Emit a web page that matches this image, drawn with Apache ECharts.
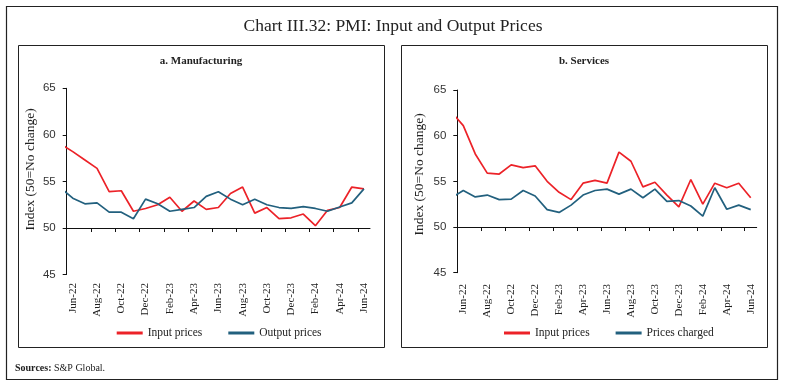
<!DOCTYPE html>
<html>
<head>
<meta charset="utf-8">
<script src="https://cdn.jsdelivr.net/npm/echarts/dist/echarts.min.js"></script>
<style>
html,body{margin:0;padding:0;background:#fff;}
#chart{width:786px;height:383px;}
</style>
</head>
<body>
<div id="chart"></div>
<script>
// Months: May-22 (partly outside the plot, clipped at the axis) to Jun-24
const months = ['May-22','Jun-22','Jul-22','Aug-22','Sep-22','Oct-22','Nov-22','Dec-22','Jan-23','Feb-23','Mar-23','Apr-23','May-23','Jun-23','Jul-23','Aug-23','Sep-23','Oct-23','Nov-23','Dec-23','Jan-24','Feb-24','Mar-24','Apr-24','May-24','Jun-24'];
const tickLabels = ['Jun-22','Aug-22','Oct-22','Dec-22','Feb-23','Apr-23','Jun-23','Aug-23','Oct-23','Dec-23','Feb-24','Apr-24','Jun-24'];
// a. Manufacturing
const mfgInput  = [59.0,58.2,57.3,56.4,53.9,54.0,51.8,52.1,52.5,53.3,51.8,52.9,52.0,52.2,53.7,54.4,51.6,52.2,51.0,51.1,51.5,50.25,51.9,52.2,54.4,54.2];
const mfgOutput = [54.3,53.2,52.6,52.7,51.7,51.7,51.0,53.1,52.6,51.8,52.0,52.2,53.4,53.9,53.1,52.5,53.1,52.5,52.2,52.1,52.3,52.1,51.8,52.25,52.7,54.2];
// b. Services
const svcInput   = [62.6,61.1,58.0,55.9,55.8,56.8,56.5,56.7,55.0,53.8,53.0,54.8,55.1,54.8,58.2,57.2,54.4,54.9,53.5,52.2,55.2,52.5,54.8,54.3,54.8,53.2];
const svcCharged = [53.2,54.0,53.3,53.5,53.0,53.05,54.0,53.4,51.9,51.6,52.4,53.5,54.0,54.15,53.6,54.15,53.2,54.15,52.8,52.9,52.3,51.2,54.3,51.95,52.4,51.9];

const RED = '#EC2228';
const BLUE = '#22607E';
const SERIF = "'Liberation Serif','DejaVu Serif',serif";
const SANS = "'Liberation Sans','DejaVu Sans',sans-serif";

function toXY(arr){ return arr.map((v,k)=>[k-0.5, v]); }
const tickVals = [];
for (let k=0;k<=24;k+=2) tickVals.push(k);
const labelVals = tickLabels.map(t => months.indexOf(t) - 0.5);

const grids = [
  {left:66.7, top:88.3, width:303.3, height:186.3},
  {left:457.3, top:90, width:299.4, height:182.7}
];

function xAxisFor(i, margin){
  return {
    type:'value', gridIndex:i, min:0, max:25,
    offset: -grids[i].height/4,
    axisLine:{show:true, lineStyle:{color:'#111', width:1}},
    axisTick:{show:true, length:4, customValues:tickVals, lineStyle:{color:'#111'}},
    axisLabel:{show:true, customValues:labelVals, rotate:90, margin:margin,
      fontFamily:SERIF, fontSize:11, color:'#222',
      formatter:function(v){ return months[Math.round(v+0.5)] || ''; }},
    splitLine:{show:false}
  };
}
function yAxisFor(i, gap, pad){
  return {
    type:'value', gridIndex:i, min:45, max:65, interval:5,
    name:'Index (50=No change)', nameLocation:'middle', nameGap:gap,
    nameTextStyle:{fontFamily:SERIF, fontSize:13.5, color:'#222', padding:[0,0,0,pad]},
    axisLine:{show:true, lineStyle:{color:'#111', width:1}},
    axisTick:{show:true, length:4, lineStyle:{color:'#111'}},
    axisLabel:{margin:11, fontFamily:SANS, fontSize:11.5, color:'#333'},
    splitLine:{show:false}
  };
}
function line(name, data, color, i){
  return {type:'line', name:name, xAxisIndex:i, yAxisIndex:i, data:toXY(data),
    showSymbol:false, symbol:'none', clip:true,
    lineStyle:{color:color, width:1.7}, itemStyle:{color:color}};
}

const chart = echarts.init(document.getElementById('chart'), null, {renderer:'canvas'});
chart.setOption({
  animation:false,
  backgroundColor:'#fff',
  grid: grids.map(g=>Object.assign({containLabel:false}, g)),
  xAxis:[xAxisFor(0,55), xAxisFor(1,57)],
  yAxis:[yAxisFor(0,29,24), yAxisFor(1,31,14)],
  legend:[
    {left:116.7, top:327, padding:0, itemWidth:26, itemHeight:3, itemGap:26, icon:'rect',
     data:['Input prices','Output prices'], textStyle:{fontFamily:SERIF, fontSize:11.5, color:'#222'}, selectedMode:false},
    {left:504, top:327, padding:0, itemWidth:26, itemHeight:3, itemGap:26, icon:'rect',
     data:['Input prices','Prices charged'], textStyle:{fontFamily:SERIF, fontSize:11.5, color:'#222'}, selectedMode:false}
  ],
  series:[
    line('Input prices', mfgInput, RED, 0),
    line('Output prices', mfgOutput, BLUE, 0),
    line('Input prices', svcInput, RED, 1),
    line('Prices charged', svcCharged, BLUE, 1)
  ],
  graphic:[
    {type:'rect', shape:{x:6.5, y:6.5, width:771, height:373}, style:{fill:'none', stroke:'#222', lineWidth:1.2}, silent:true},
    {type:'rect', shape:{x:18.5, y:45.5, width:366, height:302}, style:{fill:'none', stroke:'#222', lineWidth:1}, silent:true},
    {type:'rect', shape:{x:401.5, y:45.5, width:366, height:302}, style:{fill:'none', stroke:'#222', lineWidth:1}, silent:true},
    {type:'text', x:393, y:26, style:{text:'Chart III.32: PMI: Input and Output Prices', font:"17.5px "+SERIF, fill:'#222', textAlign:'center', textVerticalAlign:'middle'}},
    {type:'text', x:201, y:61, style:{text:'a. Manufacturing', font:"bold 11px "+SERIF, fill:'#222', textAlign:'center', textVerticalAlign:'middle'}},
    {type:'text', x:584, y:61, style:{text:'b. Services', font:"bold 11px "+SERIF, fill:'#222', textAlign:'center', textVerticalAlign:'middle'}},
    {type:'text', x:15, y:368, style:{text:'{b|Sources:} S&P Global.', font:"10px "+SERIF, fill:'#222', textVerticalAlign:'middle',
      rich:{b:{fontWeight:'bold', fontFamily:SERIF, fontSize:10, fill:'#222'}}}}
  ]
});
</script>
</body>
</html>
